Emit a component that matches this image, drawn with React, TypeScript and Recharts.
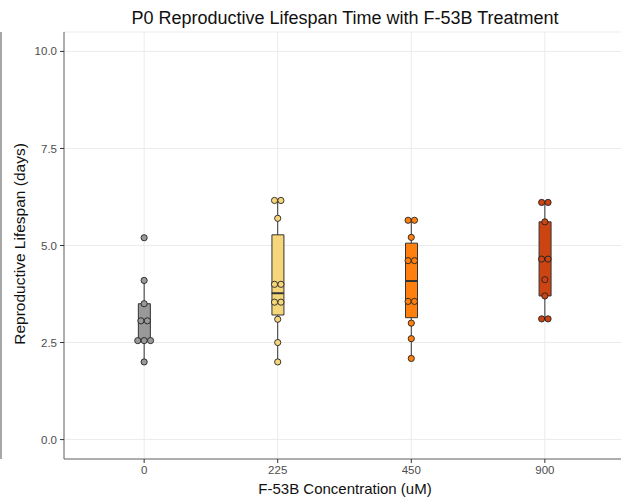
import React from "react";
import {
  ComposedChart,
  Bar,
  Scatter,
  ErrorBar,
  XAxis,
  YAxis,
  CartesianGrid,
  Cell,
} from "recharts";

// F-53B concentrations (uM)
const groups = ["0", "225", "450", "900"];
const groupColors = ["#999999", "#F5D67A", "#FF7F0F", "#CC4411"];

// reproductive lifespan per worm (days)
const vals0 = [5.2, 4.1, 3.5, 3.06, 3.06, 2.55, 2.55, 2.55, 2.0];
const vals225 = [6.16, 6.16, 5.7, 4.0, 4.0, 3.54, 3.54, 3.1, 2.5, 2.0];
const vals450 = [5.65, 5.65, 5.21, 4.61, 4.61, 3.56, 3.56, 3.0, 2.6, 2.09];
const vals900 = [6.11, 6.11, 5.61, 4.65, 4.65, 4.12, 3.7, 3.11, 3.11];

const yTicks = [0, 2.5, 5, 7.5, 10];

const allVals = [vals0, vals225, vals450, vals900];

function quantile(sorted: number[], p: number) {
  const h = (sorted.length - 1) * p;
  const lo = Math.floor(h);
  const hi = Math.ceil(h);
  return sorted[lo] + (sorted[hi] - sorted[lo]) * (h - lo);
}

// box stats like ggplot (type 7 quantiles, 1.5 IQR whiskers)
const boxRows = allVals.map((vals, i) => {
  const s = [...vals].sort((a, b) => a - b);
  const q1 = quantile(s, 0.25);
  const median = quantile(s, 0.5);
  const q3 = quantile(s, 0.75);
  const iqr = q3 - q1;
  const lo = Math.min(...s.filter((v) => v >= q1 - 1.5 * iqr));
  const hi = Math.max(...s.filter((v) => v <= q3 + 1.5 * iqr));
  return {
    x: i,
    box: [q1, q3],
    q1,
    q3,
    median,
    upErr: [0, hi - q3],
    lowErr: [q1 - lo, 0],
  };
});

// dots, stacked side by side when values are equal (dotplot, centred)
const pointRows = allVals.flatMap((vals, i) => {
  const seen: Record<string, number> = {};
  return vals.map((v) => {
    const n = vals.filter((w) => w === v).length;
    const k = seen[v] ?? 0;
    seen[v] = k + 1;
    return { x: i, value: v, slot: k - (n - 1) / 2 };
  });
});

const DOT = 6.4;
const FONT = "'Liberation Sans', Arial, Helvetica, sans-serif";

const Dot = (props: any) => {
  const { cx, cy, payload } = props;
  return (
    <circle
      cx={cx + payload.slot * DOT}
      cy={cy}
      r={3.1}
      fill={groupColors[payload.x]}
      stroke="#222"
      strokeWidth={0.9}
    />
  );
};

const MedianLine = (props: any) => {
  const { cx, cy } = props;
  return <line x1={cx - 6} x2={cx + 6} y1={cy} y2={cy} stroke="#333" strokeWidth={2} />;
};

const Nothing = () => <g />;

export default function App() {
  return (
    <div
      style={{
        position: "absolute",
        left: 0,
        top: 0,
        width: 621,
        height: 501,
        overflow: "hidden",
        background: "#fff",
      }}
    >
      <ComposedChart
        width={630}
        height={501}
        data={boxRows}
        margin={{ top: 32, right: 5, bottom: 0, left: 0 }}
      >
        <CartesianGrid stroke="#ebebeb" strokeWidth={1} />
        <XAxis
          dataKey="x"
          type="number"
          domain={[-0.6, 3.6]}
          ticks={[0, 1, 2, 3]}
          tickFormatter={(v) => groups[v]}
          height={42}
          axisLine={{ stroke: "#666" }}
          tickLine={{ stroke: "#333" }}
          tickSize={4}
          tickMargin={3}
          tick={{ fill: "#4d4d4d", fontSize: 11.5, fontFamily: FONT }}
          allowDataOverflow
        />
        <XAxis
          xAxisId="top"
          orientation="top"
          type="number"
          domain={[-0.6, 3.6]}
          height={0}
          tick={false}
          tickLine={false}
          axisLine={{ stroke: "#666" }}
        />
        <YAxis
          type="number"
          domain={[-0.5, 10.5]}
          ticks={yTicks}
          tickFormatter={(v) => v.toFixed(1)}
          width={64}
          axisLine={{ stroke: "#666" }}
          tickLine={{ stroke: "#333" }}
          tickSize={4}
          tickMargin={3}
          tick={{ fill: "#4d4d4d", fontSize: 11.5, fontFamily: FONT }}
          allowDataOverflow
        />
        <Scatter dataKey="q3" shape={Nothing} isAnimationActive={false}>
          <ErrorBar dataKey="upErr" direction="y" width={0} stroke="#333" strokeWidth={1} />
        </Scatter>
        <Scatter dataKey="q1" shape={Nothing} isAnimationActive={false}>
          <ErrorBar dataKey="lowErr" direction="y" width={0} stroke="#333" strokeWidth={1} />
        </Scatter>
        <Bar dataKey="box" barSize={12} stroke="#333" strokeWidth={1} isAnimationActive={false}>
          {boxRows.map((r) => (
            <Cell key={r.x} fill={groupColors[r.x]} />
          ))}
        </Bar>
        <Scatter dataKey="median" shape={MedianLine} isAnimationActive={false} />
        <Scatter data={pointRows} dataKey="value" shape={Dot} isAnimationActive={false} />
      </ComposedChart>
      <svg
        width={621}
        height={501}
        style={{ position: "absolute", left: 0, top: 0, pointerEvents: "none" }}
      >
        <line x1={1} x2={1} y1={32} y2={459} stroke="#888" strokeWidth={1.5} />
        <text x={345} y={24} textAnchor="middle" fontSize={18} fontFamily={FONT} fill="#111">
          P0 Reproductive Lifespan Time with F-53B Treatment
        </text>
        <text x={345} y={494} textAnchor="middle" fontSize={15} fontFamily={FONT} fill="#111">
          F-53B Concentration (uM)
        </text>
        <text
          x={0}
          y={0}
          transform="translate(25 244) rotate(-90)"
          textAnchor="middle"
          fontSize={15.5}
          fontFamily={FONT}
          fill="#111"
        >
          Reproductive Lifespan (days)
        </text>
      </svg>
    </div>
  );
}
